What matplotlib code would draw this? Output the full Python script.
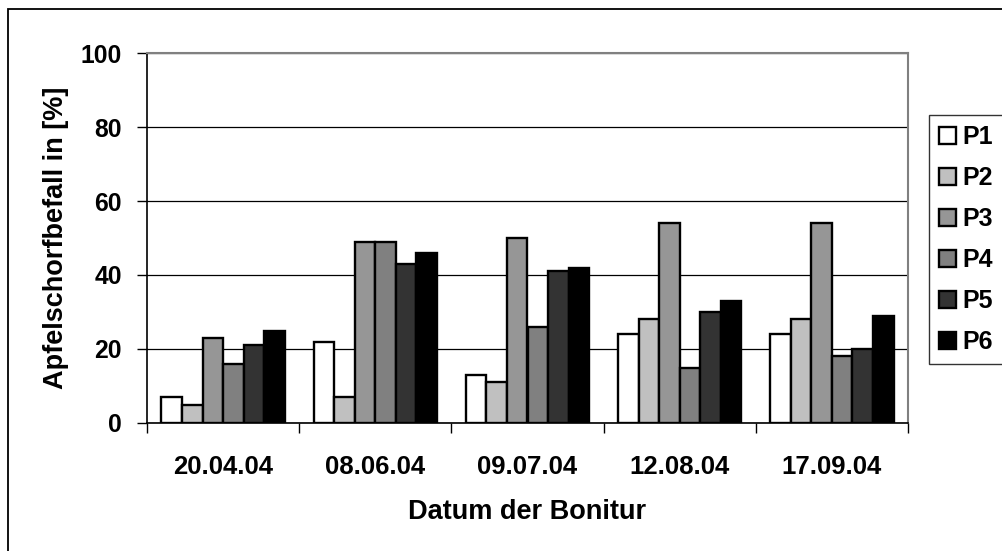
import matplotlib
matplotlib.use("Agg")
import matplotlib.pyplot as plt
import numpy as np
from matplotlib.patches import Rectangle

# Scab infestation per plot and survey date
dates = ["20.04.04", "08.06.04", "09.07.04", "12.08.04", "17.09.04"]
series_names = ["P1", "P2", "P3", "P4", "P5", "P6"]
p1 = [7, 22, 13, 24, 24]
p2 = [5, 7, 11, 28, 28]
p3 = [23, 49, 50, 54, 54]
p4 = [16, 49, 26, 15, 18]
p5 = [21, 43, 41, 30, 20]
p6 = [25, 46, 42, 33, 29]
series_values = [p1, p2, p3, p4, p5, p6]
fill_colors = ["#FFFFFF", "#C0C0C0", "#969696", "#808080", "#333333", "#000000"]
y_ticks = [0, 20, 40, 60, 80, 100]

plt.rcParams["font.family"] = ["Liberation Sans", "DejaVu Sans"]
plt.rcParams["font.weight"] = "bold"

W, H = 1003, 551
fig = plt.figure(figsize=(W / 100, H / 100), dpi=100)

# plot area in pixel coordinates
left, right, top, bottom = 147, 908, 53, 423
ax = fig.add_axes([left / W, 1 - bottom / H, (right - left) / W, (bottom - top) / H])

n_groups = len(dates)
n_series = len(series_values)
bar_w = 0.81 / n_series
x = np.arange(n_groups)

for i, (name, vals, col) in enumerate(zip(series_names, series_values, fill_colors)):
    offs = (i - (n_series - 1) / 2) * bar_w
    ax.bar(x + offs, vals, width=bar_w, color=col, edgecolor="black",
           linewidth=1.7, label=name, zorder=3)

ax.set_xlim(-0.5, n_groups - 0.5)
ax.set_ylim(0, 100)

# horizontal gridlines
ax.set_yticks(y_ticks)
ax.yaxis.grid(True, color="black", linewidth=0.9, zorder=0)
ax.set_axisbelow(True)

# category labels centred, tick marks on the group boundaries
ax.set_xticks(x)
ax.set_xticklabels(dates, fontsize=18.5, fontweight="bold")
ax.tick_params(axis="x", which="major", length=0, pad=23)
ax.set_xticks(np.arange(-0.5, n_groups, 1.0), minor=True)
ax.tick_params(axis="x", which="minor", length=7, width=1.0, color="black",
               direction="out")

ax.tick_params(axis="y", length=7, width=1.0, color="black", direction="out",
               pad=11, labelsize=17.8)
for lbl in ax.get_yticklabels():
    lbl.set_fontweight("bold")

for side in ("top", "right"):
    ax.spines[side].set_color("#808080")
    ax.spines[side].set_linewidth(1.5)
for side in ("left", "bottom"):
    ax.spines[side].set_color("black")
    ax.spines[side].set_linewidth(1.2)

ax.set_ylabel("Apfelschorfbefall in [%]", fontsize=19.5, fontweight="bold")
ax.yaxis.set_label_coords((56 - left) / (right - left), 0.5)
ax.yaxis.label.set_va("center")
ax.set_xlabel("Datum der Bonitur", fontsize=19.5, fontweight="bold")
ax.xaxis.set_label_coords(0.5, (bottom - 512) / (bottom - top))
ax.xaxis.label.set_va("center")

# legend box at the right edge
leg_l, leg_t, leg_r, leg_b = 929, 115, 1010, 362
leg = fig.legend(loc="upper left",
                 bbox_to_anchor=(leg_l / W, 1 - leg_b / H,
                                 (leg_r - leg_l) / W, (leg_b - leg_t) / H),
                 mode="expand", frameon=True, fancybox=False,
                 prop={"size": 18, "weight": "bold"},
                 handlelength=0.7, handleheight=0.7, handletextpad=0.25,
                 labelspacing=0.68, borderpad=0.4, borderaxespad=0)
leg.get_frame().set_edgecolor("black")
leg.get_frame().set_linewidth(1.0)

# outer chart border
fig.patches.append(Rectangle((8 / W, -0.05), 1.1, 1 - 9 / H + 0.05,
                             transform=fig.transFigure, fill=False,
                             edgecolor="black", linewidth=1.3))

fig.savefig("out.png", dpi=100)
